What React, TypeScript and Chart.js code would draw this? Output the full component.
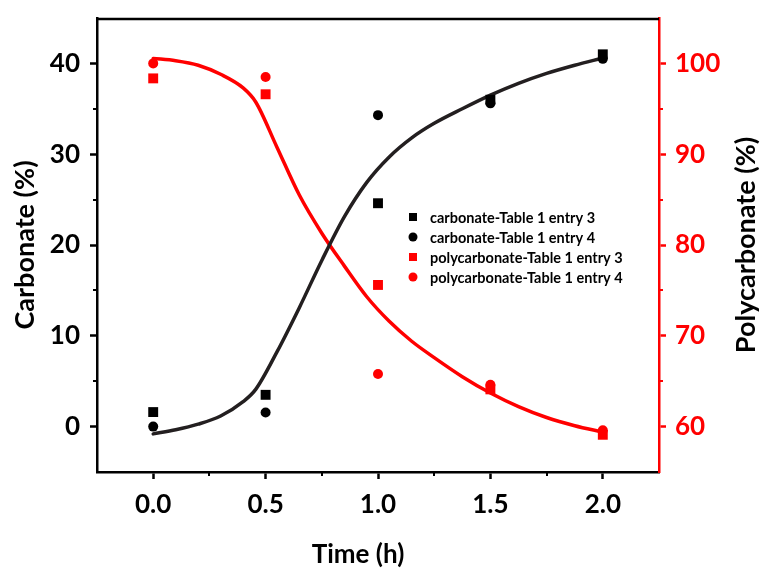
import React, { useEffect, useRef } from "react";
import { Chart, registerables } from "chart.js";

Chart.register(...registerables);

// ---- data ----
const timeH = [0, 0.5, 1.0, 1.5, 2.0];
const carbonateEntry3 = [1.6, 3.5, 24.6, 36.0, 41.0];
const carbonateEntry4 = [0.0, 1.55, 34.3, 35.6, 40.5];
const polyEntry3 = [98.35, 96.6, 75.6, 64.1, 59.1];
const polyEntry4 = [100.0, 98.5, 65.8, 64.6, 59.6];

const seriesLabels = [
  "carbonate-Table 1 entry 3",
  "carbonate-Table 1 entry 4",
  "polycarbonate-Table 1 entry 3",
  "polycarbonate-Table 1 entry 4",
];

// fitted curves
const carbonateFitX = [0, 0.1, 0.2, 0.3, 0.4, 0.456, 0.55, 0.65, 0.75, 0.85, 0.95, 1.05, 1.15, 1.25, 1.375, 1.5, 1.625, 1.75, 1.875, 2.0];
const carbonateFitY = [-0.8, -0.35, 0.27, 1.17, 2.75, 4.1, 8.2, 13.1, 18.3, 23.1, 26.9, 29.7, 31.8, 33.4, 35.0, 36.5, 37.8, 38.9, 39.8, 40.6];
const polyFitX = [0, 0.1, 0.2, 0.3, 0.4, 0.456, 0.55, 0.65, 0.75, 0.85, 0.95, 1.05, 1.15, 1.25, 1.375, 1.5, 1.625, 1.75, 1.875, 2.0];
const polyFitY = [100.55, 100.3, 99.8, 98.8, 97.3, 95.75, 90.8, 85.5, 81.3, 77.7, 74.3, 71.6, 69.4, 67.6, 65.5, 63.7, 62.2, 61.0, 60.1, 59.4];

// axes
const xMajorTicks = [0, 0.5, 1.0, 1.5, 2.0];
const xMinorTicks = [0.25, 0.75, 1.25, 1.75];
const leftMajorTicks = [0, 10, 20, 30, 40];
const leftMinorTicks = [5, 15, 25, 35];
const rightMajorTicks = [60, 70, 80, 90, 100];
const rightMinorTicks = [65, 75, 85, 95];

const xTitle = "Time (h)";
const leftTitle = "Carbonate (%)";
const rightTitle = "Polycarbonate (%)";

const FONT = "Lato, 'Open Sans', 'DejaVu Sans', sans-serif";
const RED = "#ff0000";
const BLACK = "#000000";
const CURVE_BLACK = "#231f20";

const decorPlugin = {
  id: "decor",
  afterDraw(chart: any) {
    const ctx: CanvasRenderingContext2D = chart.ctx;
    const xs = chart.scales.x;
    const ys = chart.scales.y;
    const y1 = chart.scales.y1;
    const left = xs.left;
    const right = xs.right;
    const top = ys.top;
    const bottom = ys.bottom;
    ctx.save();

    // top frame line
    ctx.strokeStyle = BLACK;
    ctx.lineWidth = 2.5;
    ctx.beginPath();
    ctx.moveTo(left - 1, top + 1);
    ctx.lineTo(right, top + 1);
    ctx.stroke();

    // minor ticks
    ctx.lineWidth = 2;
    ctx.strokeStyle = BLACK;
    xMinorTicks.forEach((v) => {
      const px = Math.round(xs.getPixelForValue(v));
      ctx.beginPath();
      ctx.moveTo(px, bottom);
      ctx.lineTo(px, bottom + 4);
      ctx.stroke();
    });
    leftMinorTicks.forEach((v) => {
      const py = Math.round(ys.getPixelForValue(v));
      ctx.beginPath();
      ctx.moveTo(left, py);
      ctx.lineTo(left - 4, py);
      ctx.stroke();
    });
    ctx.strokeStyle = RED;
    rightMinorTicks.forEach((v) => {
      const py = Math.round(y1.getPixelForValue(v));
      ctx.beginPath();
      ctx.moveTo(right, py);
      ctx.lineTo(right + 4, py);
      ctx.stroke();
    });

    // legend
    ctx.font = `bold 14.5px ${FONT}`;
    ctx.textBaseline = "middle";
    ctx.textAlign = "left";
    const lx = 413;
    const ly0 = 217;
    const step = 20;
    for (let i = 0; i < 4; i++) {
      const ds = chart.data.datasets[i];
      const y = ly0 + i * step;
      ctx.fillStyle = ds.backgroundColor;
      if (ds.pointStyle === "rect") {
        ctx.fillRect(lx - 4, y - 4, 8, 8);
      } else {
        ctx.beginPath();
        ctx.arc(lx, y, 4.5, 0, Math.PI * 2);
        ctx.fill();
      }
      ctx.fillStyle = BLACK;
      ctx.fillText(ds.label, 430, y + 1);
    }

    // titles
    ctx.fillStyle = BLACK;
    ctx.textAlign = "center";
    ctx.textBaseline = "middle";
    ctx.font = `bold 26px ${FONT}`;
    ctx.fillText(xTitle, 358, 555);

    ctx.font = `bold 27px ${FONT}`;
    const midY = 245;
    ctx.save();
    ctx.translate(25, midY);
    ctx.rotate(-Math.PI / 2);
    ctx.fillText(leftTitle, 0, 0);
    ctx.restore();

    ctx.save();
    ctx.translate(746, midY);
    ctx.rotate(-Math.PI / 2);
    ctx.fillText(rightTitle, 0, 0);
    ctx.restore();

    ctx.restore();
  },
};

export default function App() {
  const canvasRef = useRef<HTMLCanvasElement | null>(null);

  useEffect(() => {
    document.body.style.margin = "0";
    const canvas = canvasRef.current;
    if (!canvas) return;

    const pts = (xs: number[], ys: number[]) => xs.map((x, i) => ({ x, y: ys[i] }));

    const tickFont = { family: FONT, size: 26, weight: "bold" };
    const noPadV = (w: number) => (s: any) => {
      s.width = w;
      s.paddingTop = 0;
      s.paddingBottom = 0;
    };

    const chart = new Chart(canvas, {
      type: "scatter",
      data: {
        datasets: [
          {
            label: seriesLabels[0],
            data: pts(timeH, carbonateEntry3),
            yAxisID: "y",
            pointStyle: "rect",
            pointRadius: 7,
            backgroundColor: BLACK,
            borderColor: BLACK,
            borderWidth: 0,
            showLine: false,
          },
          {
            label: seriesLabels[1],
            data: pts(timeH, carbonateEntry4),
            yAxisID: "y",
            pointStyle: "circle",
            pointRadius: 5,
            backgroundColor: BLACK,
            borderColor: BLACK,
            borderWidth: 0,
            showLine: false,
          },
          {
            label: seriesLabels[2],
            data: pts(timeH, polyEntry3),
            yAxisID: "y1",
            pointStyle: "rect",
            pointRadius: 7,
            backgroundColor: RED,
            borderColor: RED,
            borderWidth: 0,
            showLine: false,
          },
          {
            label: seriesLabels[3],
            data: pts(timeH, polyEntry4),
            yAxisID: "y1",
            pointStyle: "circle",
            pointRadius: 5,
            backgroundColor: RED,
            borderColor: RED,
            borderWidth: 0,
            showLine: false,
          },
          {
            label: "carbonate fit",
            data: pts(carbonateFitX, carbonateFitY),
            yAxisID: "y",
            showLine: true,
            pointRadius: 0,
            borderColor: CURVE_BLACK,
            backgroundColor: CURVE_BLACK,
            borderWidth: 3.5,
            cubicInterpolationMode: "monotone",
            borderCapStyle: "round",
            borderJoinStyle: "round",
          } as any,
          {
            label: "polycarbonate fit",
            data: pts(polyFitX, polyFitY),
            yAxisID: "y1",
            showLine: true,
            pointRadius: 0,
            borderColor: RED,
            backgroundColor: RED,
            borderWidth: 3.5,
            cubicInterpolationMode: "monotone",
            borderCapStyle: "round",
            borderJoinStyle: "round",
          } as any,
        ],
      },
      options: {
        responsive: false,
        animation: false,
        layout: { padding: { top: 18, left: 0, right: 0, bottom: 0 } },
        plugins: {
          legend: { display: false },
          tooltip: { enabled: false },
          title: { display: false },
        },
        scales: {
          x: {
            type: "linear",
            position: "bottom",
            min: -0.25,
            max: 2.25,
            afterBuildTicks: (s: any) => {
              s.ticks = xMajorTicks.map((v) => ({ value: v }));
            },
            afterFit: (s: any) => {
              s.height = 98;
              s.paddingLeft = 0;
              s.paddingRight = 0;
            },
            ticks: {
              color: BLACK,
              padding: 10,
              font: tickFont,
              callback: (v: any) => Number(v).toFixed(1),
              maxRotation: 0,
              autoSkip: false,
            },
            grid: {
              display: true,
              drawOnChartArea: false,
              drawTicks: true,
              tickLength: 7,
              tickColor: BLACK,
              tickWidth: 2.5,
            },
            border: { display: true, color: BLACK, width: 2.5 },
          },
          y: {
            type: "linear",
            position: "left",
            min: -5,
            max: 45,
            afterBuildTicks: (s: any) => {
              s.ticks = leftMajorTicks.map((v) => ({ value: v }));
            },
            afterFit: noPadV(97),
            ticks: {
              color: BLACK,
              padding: 10,
              font: tickFont,
              autoSkip: false,
            },
            grid: {
              display: true,
              drawOnChartArea: false,
              drawTicks: true,
              tickLength: 7,
              tickColor: BLACK,
              tickWidth: 2.5,
            },
            border: { display: true, color: BLACK, width: 2.5 },
          },
          y1: {
            type: "linear",
            position: "right",
            min: 55,
            max: 105,
            afterBuildTicks: (s: any) => {
              s.ticks = rightMajorTicks.map((v) => ({ value: v }));
            },
            afterFit: noPadV(101),
            ticks: {
              color: RED,
              padding: 9,
              font: tickFont,
              autoSkip: false,
            },
            grid: {
              display: true,
              drawOnChartArea: false,
              drawTicks: true,
              tickLength: 7,
              tickColor: RED,
              tickWidth: 2.5,
            },
            border: { display: true, color: RED, width: 2.5 },
          },
        },
      } as any,
      plugins: [decorPlugin],
    });

    return () => {
      chart.destroy();
    };
  }, []);

  return (
    <div style={{ position: "absolute", left: 0, top: 0, width: 760, height: 570, background: "#fff" }}>
      <canvas ref={canvasRef} width={760} height={570} style={{ display: "block" }} />
    </div>
  );
}
